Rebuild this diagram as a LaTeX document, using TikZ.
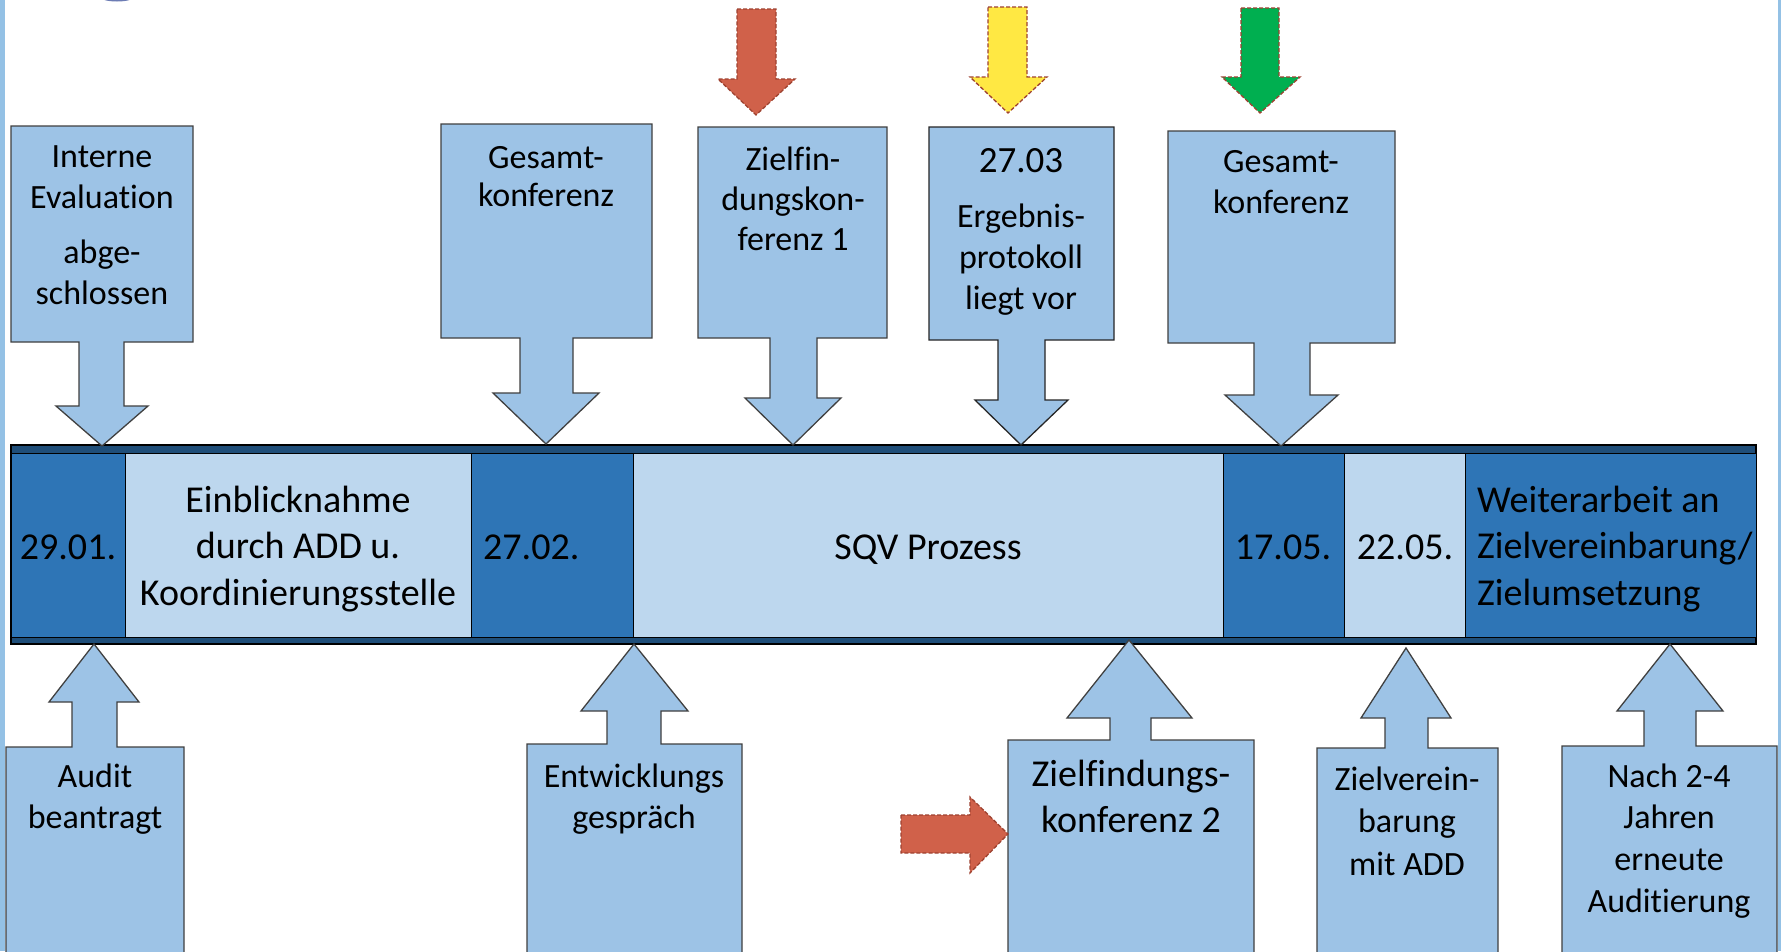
\documentclass[tikz,border=0pt]{standalone}
\usepackage{fontspec}
\setmainfont{Carlito}[Ligatures=NoCommon]
\definecolor{boxblue}{HTML}{9DC3E6}
\definecolor{boxline}{HTML}{404040}
\definecolor{celldark}{HTML}{2E75B6}
\definecolor{celllight}{HTML}{BDD7EE}
\definecolor{navy}{HTML}{1F4E79}
\definecolor{sigred}{HTML}{D0614A}
\definecolor{sigyellow}{HTML}{FFE843}
\definecolor{siggreen}{HTML}{00AF50}
\definecolor{sigline}{HTML}{9E4230}
\definecolor{strip}{HTML}{94C1E5}
\definecolor{topmark}{HTML}{6C7CB4}
\tikzset{
  callout/.style={fill=boxblue, draw=boxline, line width=1.3pt, line join=miter},
  celld/.style={fill=celldark, draw=black, line width=1pt},
  celll/.style={fill=celllight, draw=black, line width=1pt},
  txt/.style={font=\fontsize{34}{41}\selectfont, inner sep=0pt, anchor=base},
  bartxt/.style={font=\fontsize{38}{46.5}\selectfont, inner sep=0pt, anchor=base},
  sig/.style={draw=sigline, line width=1.3pt, dash pattern=on 4pt off 2pt, line join=miter},
}
\newcommand{\ctab}[1]{\begin{tabular}[t]{@{}c@{}}#1\end{tabular}}
\newcommand{\ltab}[1]{\begin{tabular}[t]{@{}l@{}}#1\end{tabular}}
\begin{document}
\begin{tikzpicture}[x=1pt,y=-1pt]
\clip (0,0) rectangle (1781,951);
\fill[white] (0,0) rectangle (1781,951);
% edge strips and top mark
\fill[strip] (0,0) rectangle (5,951);
\fill[strip] (1778,0) rectangle (1781,951);
\fill[topmark] (117,-3) ellipse [x radius=17, y radius=4.5];

% timeline bar
\draw[fill=navy, draw=black, line width=1.6pt] (11,445) rectangle (1756,644);
\node[celld, minimum width=114, minimum height=184, inner sep=0, anchor=north west] (c1) at (11,453) {};
\node[celll, minimum width=346, minimum height=184, inner sep=0, anchor=north west] (c2) at (125,453) {};
\node[celld, minimum width=162, minimum height=184, inner sep=0, anchor=north west] (c3) at (471,453) {};
\node[celll, minimum width=590, minimum height=184, inner sep=0, anchor=north west] (c4) at (633,453) {};
\node[celld, minimum width=121, minimum height=184, inner sep=0, anchor=north west] (c5) at (1223,453) {};
\node[celll, minimum width=121, minimum height=184, inner sep=0, anchor=north west] (c6) at (1344,453) {};
\node[celld, minimum width=291, minimum height=184, inner sep=0, anchor=north west] (c7) at (1465,453) {};

\node[bartxt] (t29) at (68,559) {29.01.};
\node[bartxt] (tein) at (298,512) {\ctab{Einblicknahme\\durch ADD u.\\Koordinierungsstelle}};
\node[bartxt, anchor=base west] (t27) at (483,559) {27.02.};
\node[bartxt] (tsqv) at (928,559) {SQV Prozess};
\node[bartxt] (t17) at (1283,559) {17.05.};
\node[bartxt] (t22) at (1405,559) {22.05.};
\node[bartxt, anchor=base west] (twei) at (1477,512) {\ltab{Weiterarbeit an\\Zielvereinbarung/\\Zielumsetzung}};

% top callouts (box + down arrow)
\draw[callout] (11,126) -- (193,126) -- (193,342) -- (124,342) -- (124,406) -- (148,406) -- (102,446)
  -- (56,406) -- (79,406) -- (79,342) -- (11,342) -- cycle;
\node[txt] (tint) at (102,167) {\ctab{Interne\\Evaluation\\[14pt]abge-\\schlossen}};

\draw[callout] (441,124) -- (652,124) -- (652,338) -- (573,338) -- (573,393) -- (599,393) -- (546,444)
  -- (493,393) -- (520,393) -- (520,338) -- (441,338) -- cycle;
\node[txt, font=\fontsize{34}{38.5}\selectfont] (tges1) at (546,168) {\ctab{Gesamt-\\konferenz}};

\draw[callout] (698,127) -- (887,127) -- (887,338) -- (817,338) -- (817,398) -- (841,398) -- (793,445)
  -- (745,398) -- (770,398) -- (770,338) -- (698,338) -- cycle;
\node[txt, font=\fontsize{34}{40}\selectfont] (tzf1) at (793,170) {\ctab{Zielfin-\\dungskon-\\ferenz 1}};

\draw[callout, draw=black!85] (929,127) -- (1114,127) -- (1114,340) -- (1045,340) -- (1045,400) -- (1068,400) -- (1021,445)
  -- (975,400) -- (998,400) -- (998,340) -- (929,340) -- cycle;
\node[txt, font=\fontsize{37}{41}\selectfont] (t2703) at (1021,172) {27.03};
\node[txt] (terg) at (1021,227) {\ctab{Ergebnis-\\protokoll\\liegt vor}};

\draw[callout] (1168,131) -- (1395,131) -- (1395,343) -- (1310,343) -- (1310,395) -- (1338,395) -- (1281,446)
  -- (1225,395) -- (1254,395) -- (1254,343) -- (1168,343) -- cycle;
\node[txt] (tges2) at (1281,172) {\ctab{Gesamt-\\konferenz}};

% signal arrows
\draw[sig, fill=sigred] (737,9) -- (776,9) -- (776,79) -- (795,79) -- (756,115) -- (718,79) -- (737,79) -- cycle;
\draw[sig, fill=sigyellow] (988,7) -- (1027,7) -- (1027,77) -- (1047,77) -- (1008,113) -- (970,77) -- (988,77) -- cycle;
\draw[sig, fill=siggreen] (1241,8) -- (1279,8) -- (1279,77) -- (1300,77) -- (1260,113) -- (1222,77) -- (1241,77) -- cycle;

% bottom callouts (box + up arrow)
\draw[callout] (6,960) -- (6,747) -- (72,747) -- (72,702) -- (49,702) -- (94,644) -- (139,702)
  -- (117,702) -- (117,747) -- (184,747) -- (184,960);
\node[txt] (taud) at (95,787) {\ctab{Audit\\beantragt}};

\draw[callout] (527,960) -- (527,744) -- (607,744) -- (607,711) -- (581,711) -- (634,644) -- (688,711)
  -- (661,711) -- (661,744) -- (742,744) -- (742,960);
\node[txt] (tent) at (634,787) {\ctab{Entwicklungs\\gespräch}};

\draw[callout] (1008,960) -- (1008,740) -- (1110,740) -- (1110,718) -- (1067,718) -- (1129,640) -- (1192,718)
  -- (1151,718) -- (1151,740) -- (1254,740) -- (1254,960);
\node[txt, font=\fontsize{38}{46.5}\selectfont] (tzf2) at (1131,786) {\ctab{Zielfindungs-\\konferenz 2}};

\draw[callout] (1317,960) -- (1317,748) -- (1385,748) -- (1385,718) -- (1361,718) -- (1406,648) -- (1451,718)
  -- (1428,718) -- (1428,748) -- (1498,748) -- (1498,960);
\node[txt, font=\fontsize{34}{42.5}\selectfont] (tzv) at (1407,790) {\ctab{Zielverein-\\barung\\mit ADD}};

\draw[callout] (1562,960) -- (1562,746) -- (1644,746) -- (1644,711) -- (1617,711) -- (1670,644) -- (1723,711)
  -- (1696,711) -- (1696,746) -- (1777,746) -- (1777,960);
\node[txt, font=\fontsize{34}{41.7}\selectfont] (tnach) at (1669,787) {\ctab{Nach 2-4\\Jahren\\erneute\\Auditierung}};

% red right arrow
\draw[sig, fill=sigred] (901,815) -- (970,815) -- (970,797) -- (1008,834) -- (970,873) -- (970,853) -- (901,853) -- cycle;
\end{tikzpicture}
\end{document}
